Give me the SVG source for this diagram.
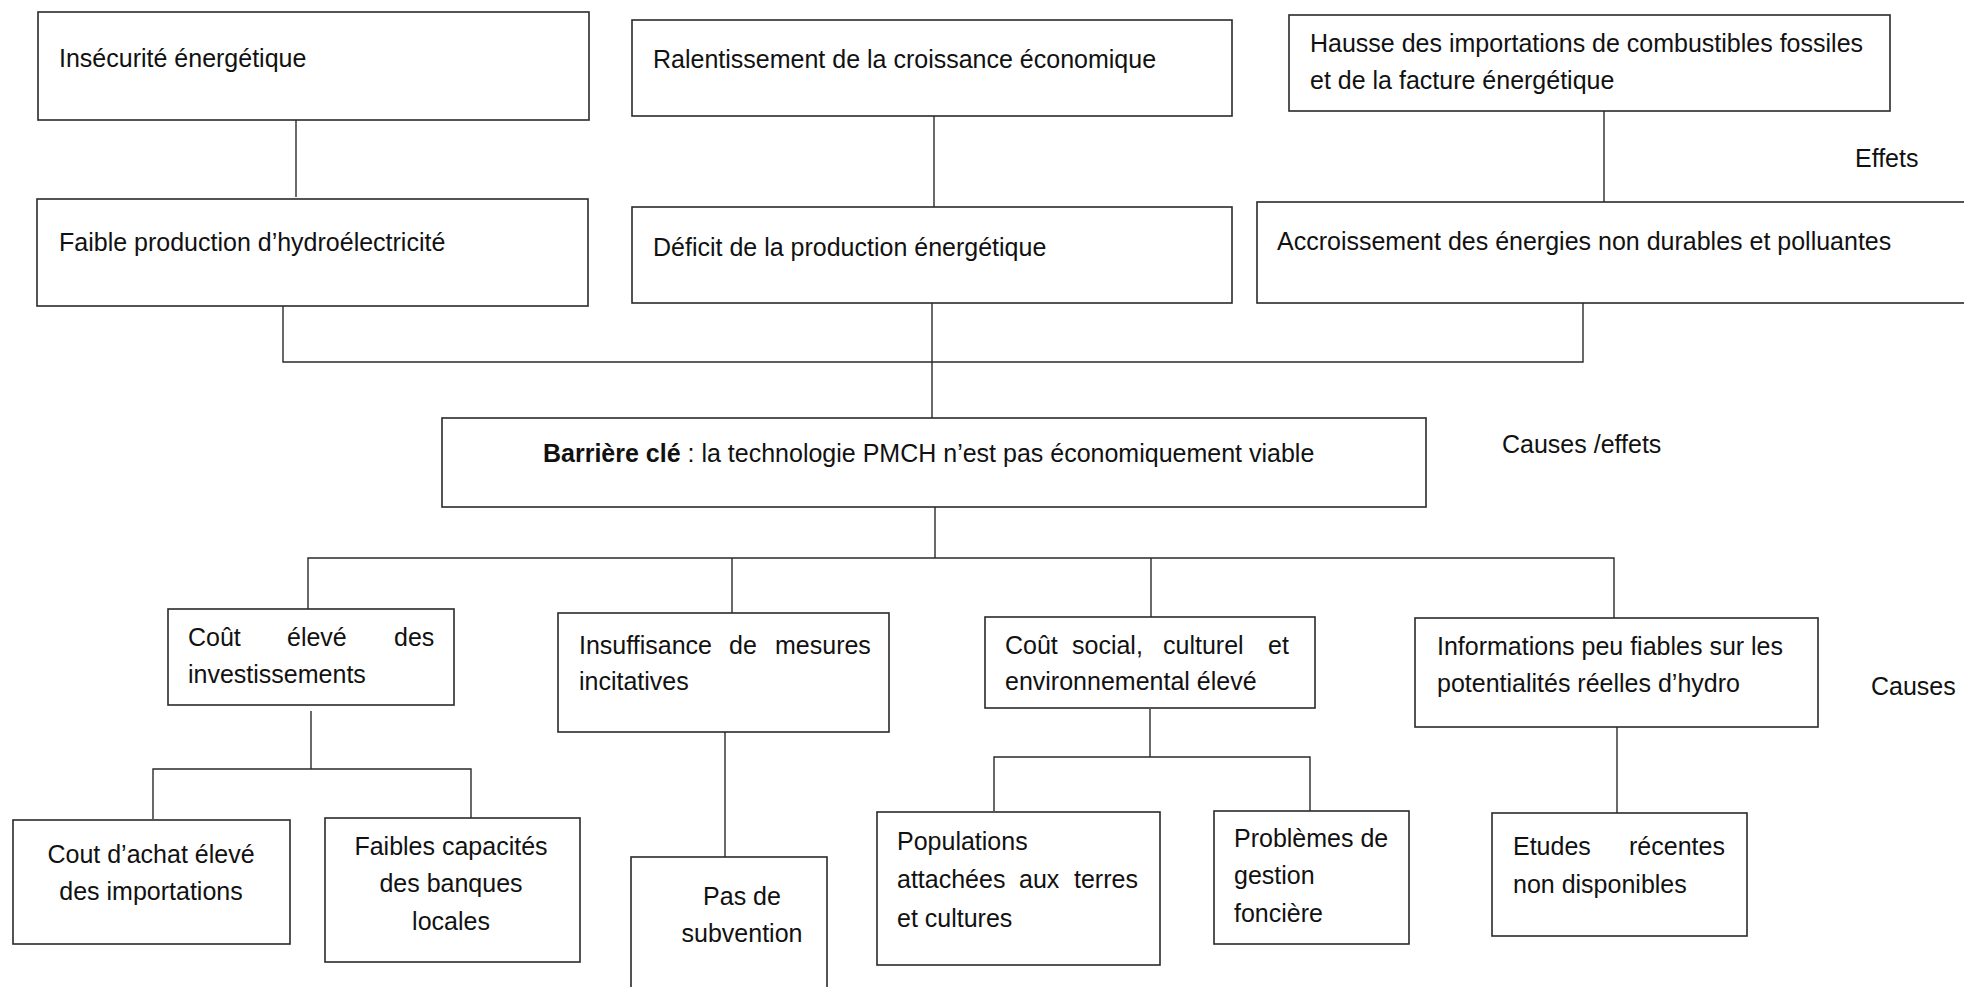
<svg xmlns="http://www.w3.org/2000/svg" width="1964" height="987" viewBox="0 0 1964 987">
  <style>
    .box { fill: #ffffff; stroke: #2a2a2a; stroke-width: 1.6; }
    .link { fill: none; stroke: #2a2a2a; stroke-width: 1.4; }
    text { font-family: "Liberation Sans", Arial, sans-serif; font-size: 25px; fill: #111111; }
    .mid { text-anchor: middle; }
    .b { font-weight: bold; }
  </style>
  <rect width="1964" height="987" fill="#ffffff"/>

  <!-- connectors -->
  <g id="connectors">
    <path class="link" d="M296 120 V197"/>
    <path class="link" d="M934 116 V207"/>
    <path class="link" d="M1604 111 V202"/>
    <path class="link" d="M283 306 V362 H1583 V303"/>
    <path class="link" d="M932 303 V418"/>
    <path class="link" d="M935 507 V558"/>
    <path class="link" d="M308 609 V558 H1614 V618"/>
    <path class="link" d="M732 558 V613"/>
    <path class="link" d="M1151 558 V617"/>
    <path class="link" d="M311 711 V769"/>
    <path class="link" d="M153 819 V769 H471 V818"/>
    <path class="link" d="M725 732 V857"/>
    <path class="link" d="M1150 709 V757"/>
    <path class="link" d="M994 811 V757 H1310 V811"/>
    <path class="link" d="M1617 727 V813"/>
  </g>

  <!-- effects row -->
  <g id="n-insecurite">
    <rect class="box" x="38" y="12" width="551" height="108"/>
    <text x="59" y="67">Insécurité énergétique</text>
  </g>
  <g id="n-ralentissement">
    <rect class="box" x="632" y="20" width="600" height="96"/>
    <text x="653" y="68">Ralentissement de la croissance économique</text>
  </g>
  <g id="n-hausse">
    <rect class="box" x="1289" y="15" width="601" height="96"/>
    <text x="1310" y="52">Hausse des importations de combustibles fossiles</text>
    <text x="1310" y="89">et de la facture énergétique</text>
  </g>
  <g id="n-faible-prod">
    <rect class="box" x="37" y="199" width="551" height="107"/>
    <text x="59" y="251">Faible production d’hydroélectricité</text>
  </g>
  <g id="n-deficit">
    <rect class="box" x="632" y="207" width="600" height="96"/>
    <text x="653" y="256">Déficit de la production énergétique</text>
  </g>
  <g id="n-accroissement">
    <rect class="box" x="1257" y="202" width="720" height="101"/>
    <text x="1277" y="250">Accroissement des énergies non durables et polluantes</text>
  </g>

  <!-- key barrier -->
  <g id="n-barriere">
    <rect class="box" x="442" y="418" width="984" height="89"/>
    <text x="543" y="462"><tspan class="b">Barrière clé</tspan> : la technologie PMCH n’est pas économiquement viable</text>
  </g>

  <!-- causes row -->
  <g id="n-cout-invest">
    <rect class="box" x="168" y="609" width="286" height="96"/>
    <text y="646"><tspan x="188">Coût</tspan><tspan x="287">élevé</tspan><tspan x="394">des</tspan></text>
    <text x="188" y="683">investissements</text>
  </g>
  <g id="n-insuffisance">
    <rect class="box" x="558" y="613" width="331" height="119"/>
    <text y="654"><tspan x="579">Insuffisance</tspan><tspan x="729">de</tspan><tspan x="775">mesures</tspan></text>
    <text x="579" y="690">incitatives</text>
  </g>
  <g id="n-cout-social">
    <rect class="box" x="985" y="617" width="330" height="91"/>
    <text y="654"><tspan x="1005">Coût</tspan><tspan x="1072">social,</tspan><tspan x="1163">culturel</tspan><tspan x="1268">et</tspan></text>
    <text x="1005" y="690">environnemental élevé</text>
  </g>
  <g id="n-informations">
    <rect class="box" x="1415" y="618" width="403" height="109"/>
    <text x="1437" y="655">Informations peu fiables sur les</text>
    <text x="1437" y="692">potentialités réelles d’hydro</text>
  </g>

  <!-- sub-causes -->
  <g id="n-cout-achat">
    <rect class="box" x="13" y="820" width="277" height="124"/>
    <text class="mid" x="151" y="863">Cout d’achat élevé</text>
    <text class="mid" x="151" y="900">des importations</text>
  </g>
  <g id="n-banques">
    <rect class="box" x="325" y="818" width="255" height="144"/>
    <text class="mid" x="451" y="855">Faibles capacités</text>
    <text class="mid" x="451" y="892">des banques</text>
    <text class="mid" x="451" y="930">locales</text>
  </g>
  <g id="n-subvention">
    <rect class="box" x="631" y="857" width="196" height="150"/>
    <text class="mid" x="742" y="905">Pas de</text>
    <text class="mid" x="742" y="942">subvention</text>
  </g>
  <g id="n-populations">
    <rect class="box" x="877" y="812" width="283" height="153"/>
    <text x="897" y="850">Populations</text>
    <text y="888"><tspan x="897">attachées</tspan><tspan x="1019">aux</tspan><tspan x="1074">terres</tspan></text>
    <text x="897" y="927">et cultures</text>
  </g>
  <g id="n-fonciere">
    <rect class="box" x="1214" y="811" width="195" height="133"/>
    <text x="1234" y="847">Problèmes de</text>
    <text x="1234" y="884">gestion</text>
    <text x="1234" y="922">foncière</text>
  </g>
  <g id="n-etudes">
    <rect class="box" x="1492" y="813" width="255" height="123"/>
    <text y="855"><tspan x="1513">Etudes</tspan><tspan x="1629">récentes</tspan></text>
    <text x="1513" y="893">non disponibles</text>
  </g>

  <!-- level labels -->
  <g id="labels">
    <text x="1855" y="167">Effets</text>
    <text x="1502" y="453">Causes /effets</text>
    <text x="1871" y="695">Causes</text>
  </g>
</svg>
